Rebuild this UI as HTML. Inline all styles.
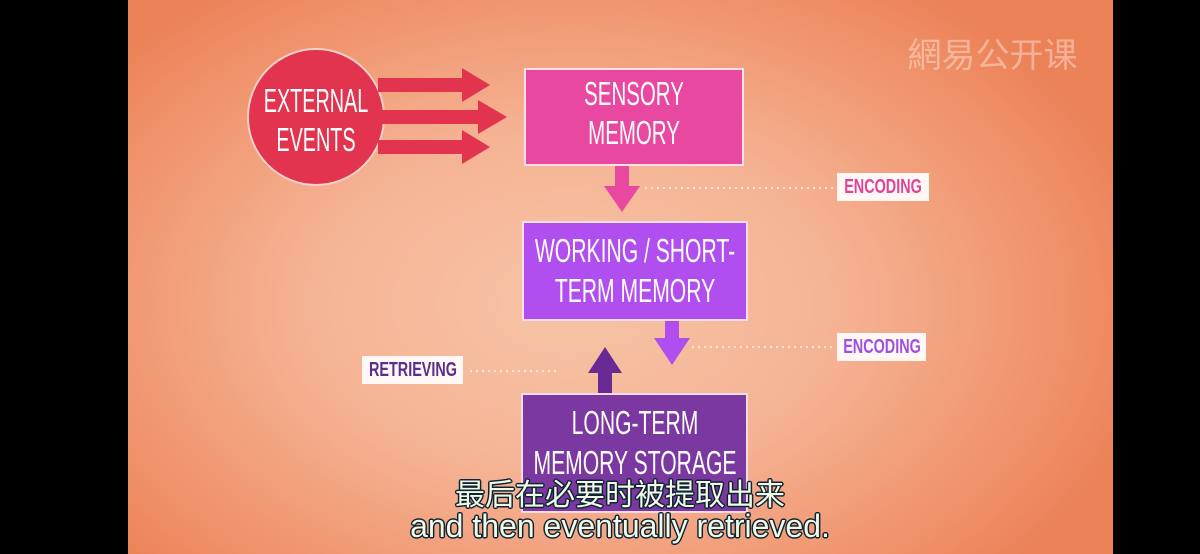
<!DOCTYPE html>
<html><head><meta charset="utf-8"><style>
html,body{margin:0;padding:0;width:1200px;height:554px;background:#000;overflow:hidden}
.stage{position:absolute;left:128px;top:0;width:985px;height:554px;
background:radial-gradient(ellipse 60% 70% at 45% 55%,#f7c4a6 0%,#f5b394 45%,#ef9068 85%,#ec8258 100%)}
.t{position:absolute;font-family:"Liberation Sans",sans-serif;color:#fff;text-align:center;white-space:nowrap}
.box{position:absolute;border:2px solid rgba(255,240,235,.9);box-sizing:border-box}
.lab{position:absolute;background:#fff8f4;font-family:"Liberation Sans",sans-serif;font-weight:bold;font-size:20px;box-sizing:border-box;white-space:nowrap}
.lab span{position:absolute;left:50%;top:0;transform:translateX(-50%) scaleX(.72)}
.sub{position:absolute;left:0;width:1240px;text-align:center;color:#eefbe6;font-family:"Liberation Sans","Noto Sans CJK SC",sans-serif;
text-shadow:-1.5px 0 #123,1.5px 0 #123,0 -1.5px #123,0 1.5px #123,1px 1px #123,-1px -1px #123,1px -1px #123,-1px 1px #123}
</style></head><body>
<div class="stage"></div>
<svg width="1200" height="554" style="position:absolute;left:0;top:0">
<circle cx="316" cy="117" r="68" fill="#e2344f" stroke="#f6d0c8" stroke-width="2"/>
<g fill="#e2344f">
<polygon points="378,78 462,78 462,68 490,85 462,102 462,92 378,92"/>
<polygon points="378,110 478,110 478,100 507,117 478,134 478,124 378,124"/>
<polygon points="378,140 462,140 462,130 490,147 462,164 462,154 378,154"/>
</g>
<polygon points="615,165 629,165 629,186 640,186 622,212 604,186 615,186" fill="#e8489f"/>
<polygon points="665,320 679,320 679,338 690,338 672,365 654,338 665,338" fill="#b04ef0"/>
<polygon points="598,395 612,395 612,373 622,373 605,347 588,373 598,373" fill="#6a2a96"/>
<g stroke="#fbe6dc" stroke-width="2" stroke-dasharray="2,4">
<line x1="645" y1="188" x2="836" y2="188"/>
<line x1="692" y1="347" x2="836" y2="347"/>
<line x1="470" y1="371" x2="560" y2="371"/>
</g>
</svg>
<div class="t" style="left:156px;top:81px;width:320px;font-size:33px;line-height:39px;transform:scaleX(.6)">EXTERNAL<br>EVENTS</div>
<div class="box" style="left:524px;top:68px;width:220px;height:98px;background:#e8489f"></div>
<div class="t" style="left:474px;top:74px;width:320px;font-size:33px;line-height:39px;transform:scaleX(.62)">SENSORY<br>MEMORY</div>
<div class="box" style="left:522px;top:221px;width:226px;height:100px;background:#b04ef0"></div>
<div class="t" style="left:475px;top:231px;width:320px;font-size:33px;line-height:40px;transform:scaleX(.64)">WORKING / SHORT-<br>TERM MEMORY</div>
<div class="box" style="left:521px;top:393px;width:227px;height:120px;background:#7a38a0"></div>
<div class="t" style="left:475px;top:403px;width:320px;font-size:33px;line-height:40px;transform:scaleX(.64)">LONG-TERM<br>MEMORY STORAGE</div>
<div class="lab" style="left:837px;top:173px;width:92px;height:28px;line-height:28px;color:#e0449a"><span>ENCODING</span></div>
<div class="lab" style="left:837px;top:333px;width:89px;height:28px;line-height:28px;color:#a050e0"><span>ENCODING</span></div>
<div class="lab" style="left:362px;top:356px;width:101px;height:28px;line-height:28px;color:#5a2e8c"><span>RETRIEVING</span></div>
<div class="t" style="left:890px;top:28px;width:205px;font-family:'Noto Sans CJK SC',sans-serif;font-size:34px;color:rgba(255,235,225,.45)">網易公开课</div>
<div class="sub" style="top:470px;font-size:30px">最后在必要时被提取出来</div>
<div class="sub" style="top:508px;font-size:32px">and then eventually retrieved.</div>
</body></html>
